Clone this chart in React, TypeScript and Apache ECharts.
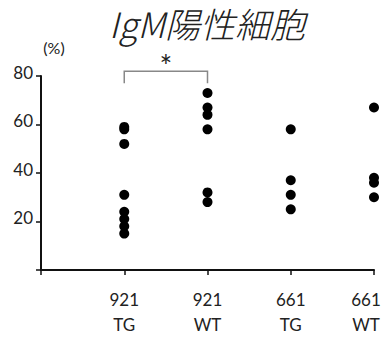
import React, { useEffect, useRef } from "react";
import * as echarts from "echarts";

const strainCodes = ["921", "921", "661", "661"];
const genotypes = ["TG", "WT", "TG", "WT"];
const yTicks = [0, 20, 40, 60, 80];

const tg921 = [59, 58, 52, 31, 24, 21, 18, 15];
const wt921 = [73, 67, 64, 58, 32, 28];
const tg661 = [58, 37, 31, 25];
const wt661 = [67, 38, 36, 30];

const groupsValues = [tg921, wt921, tg661, wt661];

const titleText = "IgM陽性細胞";
const unitText = "(%)";
const sigText = "*";
const sigPair = [1, 2];
const sigBracketTop = 82;
const sigBracketLeg = 77;

export default function App() {
  const ref = useRef<HTMLDivElement>(null);
  useEffect(() => {
    if (!ref.current) return;
    const chart = echarts.init(ref.current, null, { renderer: "svg" });
    const categories = [""].concat(strainCodes.map((c, i) => c + "\n" + genotypes[i]));
    const points: number[][] = [];
    groupsValues.forEach((vals, gi) => vals.forEach((v) => points.push([gi + 1, v])));
    const font = "Lato, 'Noto Sans', sans-serif";
    const lastIdx = categories.length - 1;
    chart.setOption({
      animation: false,
      backgroundColor: "#fff",
      grid: { left: 41, right: 10, top: 76, bottom: 67, outerBoundsMode: "none", containLabel: false },
      xAxis: {
        type: "category",
        data: categories,
        boundaryGap: false,
        axisLine: { lineStyle: { color: "#111", width: 2 } },
        axisTick: { length: 5, lineStyle: { color: "#111", width: 1.5 }, interval: 0 },
        axisLabel: {
          interval: 0,
          margin: 17,
          fontFamily: font,
          fontSize: 17,
          lineHeight: 25,
          color: "#222",
          hideOverlap: false,
          formatter: (v: string, idx: number) => {
            if (idx !== lastIdx) return v;
            return v
              .split("\n")
              .map((s) => "{last|" + s + "}")
              .join("\n");
          },
          rich: {
            last: {
              fontFamily: font,
              fontSize: 17,
              lineHeight: 25,
              color: "#222",
              padding: [0, 16, 0, 0],
            },
          },
        },
        splitLine: { show: false },
      },
      yAxis: {
        type: "value",
        min: yTicks[0],
        max: yTicks[yTicks.length - 1],
        interval: 20,
        axisLine: { show: true, lineStyle: { color: "#111", width: 2 } },
        axisTick: { show: true, length: 5, lineStyle: { color: "#111", width: 1.5 } },
        axisLabel: {
          margin: 8,
          fontFamily: font,
          fontSize: 17,
          lineHeight: 8,
          verticalAlign: "bottom",
          color: "#222",
          formatter: (v: number) => (v === 0 ? "" : String(v)),
        },
        splitLine: { show: false },
      },
      series: [
        {
          type: "scatter",
          data: points,
          symbol: "circle",
          symbolSize: 10,
          clip: false,
          itemStyle: { color: "#000", opacity: 1 },
        },
      ],
    });
    const a = chart.convertToPixel({ gridIndex: 0 }, [sigPair[0], sigBracketTop]) as number[];
    const b = chart.convertToPixel({ gridIndex: 0 }, [sigPair[1], sigBracketTop]) as number[];
    const aL = chart.convertToPixel({ gridIndex: 0 }, [sigPair[0], sigBracketLeg]) as number[];
    const bL = chart.convertToPixel({ gridIndex: 0 }, [sigPair[1], sigBracketLeg]) as number[];
    chart.setOption({
      graphic: [
        {
          type: "text",
          x: 207,
          y: 22,
          style: {
            text: titleText,
            fontFamily: "'Noto Sans CJK JP', 'Noto Sans', sans-serif",
            fontStyle: "italic",
            fontWeight: 300,
            fontSize: 35,
            lineHeight: 36,
            fill: "#222",
            textAlign: "center",
            textVerticalAlign: "middle",
          },
        },
        {
          type: "polyline",
          shape: { points: [[aL[0], aL[1]], [a[0], a[1]], [b[0], b[1]], [bL[0], bL[1]]] },
          style: { stroke: "#888", lineWidth: 1.5, fill: null },
        },
        {
          type: "text",
          x: (a[0] + b[0]) / 2,
          y: a[1] + 9,
          style: {
            text: sigText,
            fontFamily: font,
            fontSize: 30,
            fill: "#222",
            textAlign: "center",
            textVerticalAlign: "bottom",
          },
        },
        {
          type: "text",
          x: 54,
          y: 47,
          style: {
            text: unitText,
            fontFamily: font,
            fontSize: 16,
            fill: "#222",
            textAlign: "center",
            textVerticalAlign: "middle",
          },
        },
      ],
    });
    return () => chart.dispose();
  }, []);
  return (
    <div
      ref={ref}
      style={{ position: "fixed", left: 0, top: 0, width: 384, height: 337 }}
    />
  );
}
